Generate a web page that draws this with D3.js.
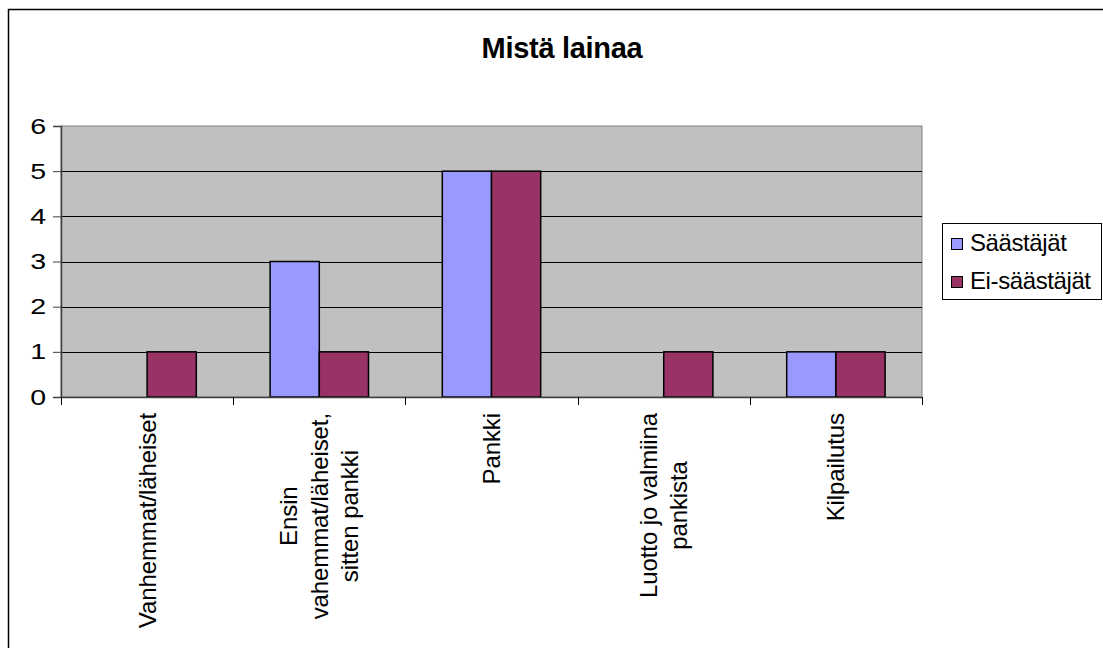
<!DOCTYPE html>
<html>
<head>
<meta charset="utf-8">
<title>Mistä lainaa</title>
<script src="https://d3js.org/d3.v7.min.js"></script>
<style>
	body { margin: 0; background: #fff; }
	text { font-family: "Liberation Sans", Arial, sans-serif; fill: #000; }
</style>
</head>
<body>
<div id="chartContainer"></div>

<script type="text/javascript">
	// Chart data
	var categories = ["Vanhemmat/läheiset", "Ensin vahemmat/läheiset, sitten pankki", "Pankki", "Luotto jo valmiina pankista", "Kilpailutus"];
	var categoryLines = [
		["Vanhemmat/läheiset"],
		["Ensin", "vahemmat/läheiset,", "sitten pankki"],
		["Pankki"],
		["Luotto jo valmiina", "pankista"],
		["Kilpailutus"]
	];
	var seriesNames = ["Säästäjät", "Ei-säästäjät"];
	var saastajat = [0, 3, 5, 0, 1];
	var eiSaastajat = [1, 1, 5, 1, 1];
	var yTicks = [0, 1, 2, 3, 4, 5, 6];
	var seriesColors = ["#9999ff", "#993366"];

	var width = 1103, height = 648;
	var plot = {left: 61, right: 922, top: 126, bottom: 397};

	var svg = d3.select("#chartContainer").append("svg")
		.attr("width", width)
		.attr("height", height);

	// outer chart border (only the top and left edges are visible)
	svg.append("rect")
		.attr("x", 8.5).attr("y", 9.5)
		.attr("width", 1200).attr("height", 800)
		.attr("fill", "#fff")
		.attr("stroke", "#000")
		.attr("stroke-width", 1.5);

	// title
	svg.append("text")
		.attr("x", 562)
		.attr("y", 58)
		.attr("text-anchor", "middle")
		.style("font-size", "29px")
		.style("font-weight", "bold")
		.style("letter-spacing", "-0.3px")
		.text("Mistä lainaa");

	var y = d3.scaleLinear().domain([0, 6]).range([plot.bottom, plot.top]);
	var x0 = d3.scaleBand().domain(categories).range([plot.left, plot.right]);
	// gap width 150%: each bar is band/3.5 wide
	var bw = x0.bandwidth();
	var x1 = d3.scaleBand().domain(seriesNames)
		.range([bw * 0.75 / 3.5, bw - bw * 0.75 / 3.5]);

	// plot area background
	svg.append("rect")
		.attr("x", plot.left).attr("y", plot.top)
		.attr("width", plot.right - plot.left)
		.attr("height", plot.bottom - plot.top)
		.attr("fill", "#c0c0c0")
		.attr("stroke", "#808080")
		.attr("stroke-width", 1);

	// gridlines
	svg.append("g").selectAll("line")
		.data(yTicks.filter(function (d) { return d > 0 && d < 6; }))
		.enter().append("line")
		.attr("x1", plot.left).attr("x2", plot.right)
		.attr("y1", function (d) { return Math.round(y(d)) + 0.5; })
		.attr("y2", function (d) { return Math.round(y(d)) + 0.5; })
		.attr("stroke", "#000")
		.attr("stroke-width", 1);

	// bars
	var rows = categories.map(function (c, i) {
		return {cat: c, values: [saastajat[i], eiSaastajat[i]]};
	});
	var groups = svg.append("g").selectAll("g")
		.data(rows)
		.enter().append("g")
		.attr("transform", function (d) { return "translate(" + x0(d.cat) + ",0)"; });
	groups.selectAll("rect")
		.data(function (d) {
			return d.values.map(function (v, k) { return {name: seriesNames[k], value: v, k: k}; });
		})
		.enter().filter(function (d) { return d.value > 0; })
		.append("rect")
		.attr("x", function (d) { return x1(d.name); })
		.attr("y", function (d) { return y(d.value); })
		.attr("width", x1.bandwidth())
		.attr("height", function (d) { return y(0) - y(d.value); })
		.attr("fill", function (d) { return seriesColors[d.k]; })
		.attr("stroke", "#000")
		.attr("stroke-width", 1.5);

	// y axis
	var yAxis = svg.append("g")
		.attr("transform", "translate(" + plot.left + ",0)")
		.call(d3.axisLeft(y).tickValues(yTicks).tickSize(8).tickPadding(7).tickFormat(d3.format("d")));
	yAxis.select(".domain").attr("stroke", "#404040").attr("stroke-width", 1.5);
	yAxis.selectAll(".tick line").attr("stroke", "#404040");
	yAxis.selectAll("text")
		.style("font-size", "22px")
		.attr("transform", "scale(1.3,1)")
		.attr("x", -11.5);

	// x axis
	var xAxis = svg.append("g")
		.attr("transform", "translate(0," + plot.bottom + ")");
	xAxis.append("line")
		.attr("x1", plot.left).attr("x2", plot.right)
		.attr("y1", 0.5).attr("y2", 0.5)
		.attr("stroke", "#404040").attr("stroke-width", 1.5);
	var xTickPos = categories.map(function (c) { return x0(c); }).concat([plot.right]);
	xAxis.selectAll("line.tick")
		.data(xTickPos)
		.enter().append("line")
		.attr("class", "tick")
		.attr("x1", function (d) { return Math.round(d) + 0.5; })
		.attr("x2", function (d) { return Math.round(d) + 0.5; })
		.attr("y1", 0).attr("y2", 8)
		.attr("stroke", "#000");

	// rotated category labels, lines centred, longest line ending at the top
	var lineStep = 30.5;
	categories.forEach(function (c, i) {
		var lines = categoryLines[i];
		var g = svg.append("g")
			.attr("transform", "translate(" + (x0(c) + bw / 2) + ",413) rotate(-90)");
		var texts = g.selectAll("text")
			.data(lines)
			.enter().append("text")
			.attr("y", function (d, j) { return (j - (lines.length - 1) / 2) * lineStep; })
			.attr("dy", "0.35em")
			.attr("text-anchor", "middle")
			.style("font-size", "24px")
			.style("letter-spacing", "-0.1px")
			.text(function (d) { return d; });
		var maxW = 0;
		texts.each(function () { maxW = Math.max(maxW, this.getComputedTextLength()); });
		texts.attr("x", -maxW / 2);
	});

	// legend
	var legend = svg.append("g");
	legend.append("rect")
		.attr("x", 942.5).attr("y", 223.5)
		.attr("width", 159).attr("height", 76)
		.attr("fill", "#fff")
		.attr("stroke", "#000")
		.attr("stroke-width", 1);
	seriesNames.forEach(function (name, k) {
		legend.append("rect")
			.attr("x", 951.5).attr("y", 238.5 + k * 38)
			.attr("width", 11).attr("height", 11)
			.attr("fill", seriesColors[k])
			.attr("stroke", "#000")
			.attr("stroke-width", 1);
		legend.append("text")
			.attr("x", 970)
			.attr("y", 251 + k * 38)
			.style("font-size", "24px")
			.style("letter-spacing", "-0.4px")
			.text(name);
	});
</script>
</body>
</html>
